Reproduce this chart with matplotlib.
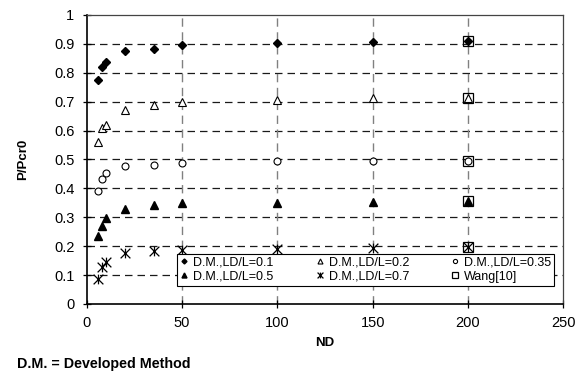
import numpy as np
import matplotlib
matplotlib.use('Agg')
import matplotlib.pyplot as plt
from matplotlib.path import Path

plt.rcParams['font.family'] = ['Liberation Sans', 'DejaVu Sans']

nd = [6, 8, 10, 20, 35, 50, 100, 150, 200]
ld_01 = [0.774, 0.819, 0.838, 0.876, 0.883, 0.895, 0.902, 0.906, 0.909]
ld_02 = [0.562, 0.608, 0.619, 0.671, 0.689, 0.700, 0.707, 0.712, 0.714]
ld_035 = [0.391, 0.431, 0.452, 0.479, 0.481, 0.487, 0.495, 0.496, 0.496]
ld_05 = [0.236, 0.270, 0.296, 0.328, 0.343, 0.348, 0.351, 0.354, 0.356]
ld_07 = [0.085, 0.127, 0.144, 0.175, 0.183, 0.187, 0.189, 0.195, 0.196]

wang_nd = [200, 200, 200, 200, 200]
wang = [0.911, 0.714, 0.495, 0.357, 0.196]

# excel style star: x with a vertical bar
star = Path([(-1, -1), (1, 1), (-1, 1), (1, -1), (0, -1), (0, 1)],
            [Path.MOVETO, Path.LINETO, Path.MOVETO, Path.LINETO, Path.MOVETO, Path.LINETO])

fig = plt.figure(figsize=(5.83, 3.73), dpi=100)
ax = fig.add_axes([0.149, 0.185, 0.817, 0.775])

h1, = ax.plot(nd, ld_01, 'D', ms=4.2, color='black', ls='none', label='D.M.,LD/L=0.1')
h2, = ax.plot(nd, ld_02, '^', ms=6, mfc='white', mec='black', mew=0.8, ls='none', label='D.M.,LD/L=0.2')
h3, = ax.plot(nd, ld_035, 'o', ms=5, mfc='white', mec='black', mew=0.8, ls='none', label='D.M.,LD/L=0.35')
h4, = ax.plot(nd, ld_05, '^', ms=6, color='black', ls='none', label='D.M.,LD/L=0.5')
h5, = ax.plot(nd, ld_07, marker=star, ms=7, mfc='none', mec='black', mew=0.9, ls='none', label='D.M.,LD/L=0.7')
h6, = ax.plot(wang_nd, wang, 's', ms=7.5, mfc='none', mec='black', mew=0.9, ls='none', label='Wang[10]')

ax.set_xlim(0, 250)
ax.set_ylim(0, 1)
ax.set_xticks(np.arange(0, 251, 50))
ax.set_yticks(np.arange(0, 1.01, 0.1))
ax.set_yticklabels(['0', '0.1', '0.2', '0.3', '0.4', '0.5', '0.6', '0.7', '0.8', '0.9', '1'])

for y in np.arange(0.1, 0.95, 0.1):
    ax.axhline(y, color='#1a1a1a', lw=0.9, ls=(0, (6, 4)), zorder=0)
for x in [50, 100, 150, 200]:
    ax.axvline(x, color='#808080', lw=1.0, ls=(0, (6, 4)), zorder=0)

ax.tick_params(direction='inout', length=6, width=0.9, labelsize=10.5, pad=6)
for s in ['left', 'bottom']:
    ax.spines[s].set_linewidth(1.2)
    ax.spines[s].set_color('black')
for s in ['top', 'right']:
    ax.spines[s].set_linewidth(0.9)
    ax.spines[s].set_color('#444444')

ax.set_xlabel('ND', fontweight='bold', fontsize=9.5, labelpad=5)
ax.set_ylabel('P/Pcr0', fontweight='bold', fontsize=9.5, labelpad=18)

handles = [h1, h4, h2, h5, h3, h6]
leg = ax.legend(handles=handles, labels=[h.get_label() for h in handles], ncol=3,
                loc='lower left', bbox_to_anchor=(0.189, 0.063, 0.792, 0.092), mode='expand',
                fontsize=9, frameon=True, fancybox=False, edgecolor='black', framealpha=1,
                markerscale=0.6, handlelength=0.7, handletextpad=0.35, borderpad=0.25,
                labelspacing=0.15, columnspacing=0.5, borderaxespad=0)
leg.get_frame().set_linewidth(0.8)

fig.text(0.029, 0.013, 'D.M. = Developed Method', fontweight='bold', fontsize=10.3)

fig.savefig('out.png', dpi=100)
